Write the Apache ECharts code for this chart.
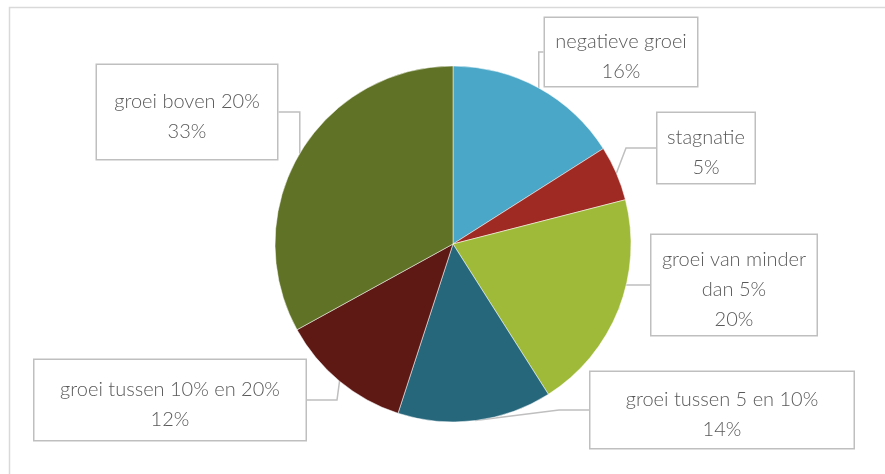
<!DOCTYPE html>
<html>
<head>
<meta charset="utf-8">
<script src="https://cdn.jsdelivr.net/npm/echarts@6/dist/echarts.min.js"></script>
<style>
html,body{margin:0;padding:0;background:#fff;}
#chart{width:885px;height:474px;}
</style>
</head>
<body>
<div id="chart"></div>
<script>
// Data
const categories = ['negatieve groei', 'stagnatie', 'groei van minder dan 5%', 'groei tussen 5 en 10%', 'groei tussen 10% en 20%', 'groei boven 20%'];
const values = [16, 5, 20, 14, 12, 33];

// Styles / label layout (not data)
const colors = ['#4AA7C7', '#9E2A23', '#9FBA38', '#27677C', '#5E1915', '#5F7226'];
const labelPos = [[621, 52], [706, 148], [734, 285], [722, 410], [170, 400], [187, 112]];
const labelWidth = [152, 97, 165, 263, 271, 180];
const labelPad = [[4, 0], [5, 0], [5, 0], [8, 0], [10, 0], [17, 0]];

function wrapWords(text, maxChars) {
  const words = text.split(' ');
  const lines = [];
  let cur = '';
  words.forEach(w => {
    const next = cur ? cur + ' ' + w : w;
    if (next.length > maxChars && cur) { lines.push(cur); cur = w; }
    else cur = next;
  });
  if (cur) lines.push(cur);
  return lines;
}

const chart = echarts.init(document.getElementById('chart'), null, {renderer: 'canvas'});
const data = categories.map((c, i) => ({
  name: c,
  value: values[i],
  itemStyle: {color: colors[i]},
  label: {width: labelWidth[i], padding: labelPad[i]}
}));

chart.setOption({
  animation: false,
  graphic: [{
    type: 'rect',
    shape: {x: 9.5, y: 7.5, width: 1000, height: 600},
    style: {fill: 'none', stroke: '#d9d9d9', lineWidth: 1.5},
    silent: true
  }],
  series: [{
    type: 'pie',
    center: [453, 244],
    radius: 178,
    startAngle: 90,
    clockwise: true,
    data: data,
    itemStyle: {borderColor: '#ffffff', borderWidth: 0.5},
    label: {
      show: true,
      position: 'outside',
      formatter: (p) => {
        const maxChars = Math.floor(labelWidth[p.dataIndex] / 9.5);
        const lines = wrapWords(p.name, maxChars);
        lines.push(Math.round(p.value) + '%');
        return lines.map(l => '{t|' + l + '}').join('\n');
      },
      rich: {
        t: {
          fontFamily: 'Lato, Roboto, sans-serif',
          fontWeight: 300,
          fontSize: 20,
          lineHeight: 30,
          color: '#595959',
          verticalAlign: 'bottom',
          align: 'center'
        }
      },
      fontFamily: 'Lato, Roboto, sans-serif',
      fontWeight: 300,
      fontSize: 20,
      lineHeight: 30,
      color: '#595959',
      align: 'center',
      backgroundColor: '#ffffff',
      borderColor: '#bfbfbf',
      borderWidth: 1.5
    },
    labelLine: {
      show: true,
      lineStyle: {color: '#bfbfbf', width: 1.5}
    },
    labelLayout: (params) => {
      const i = params.dataIndex;
      return {
        x: labelPos[i][0],
        y: labelPos[i][1],
        align: 'center',
        verticalAlign: 'middle'
      };
    }
  }]
});
</script>
</body>
</html>
